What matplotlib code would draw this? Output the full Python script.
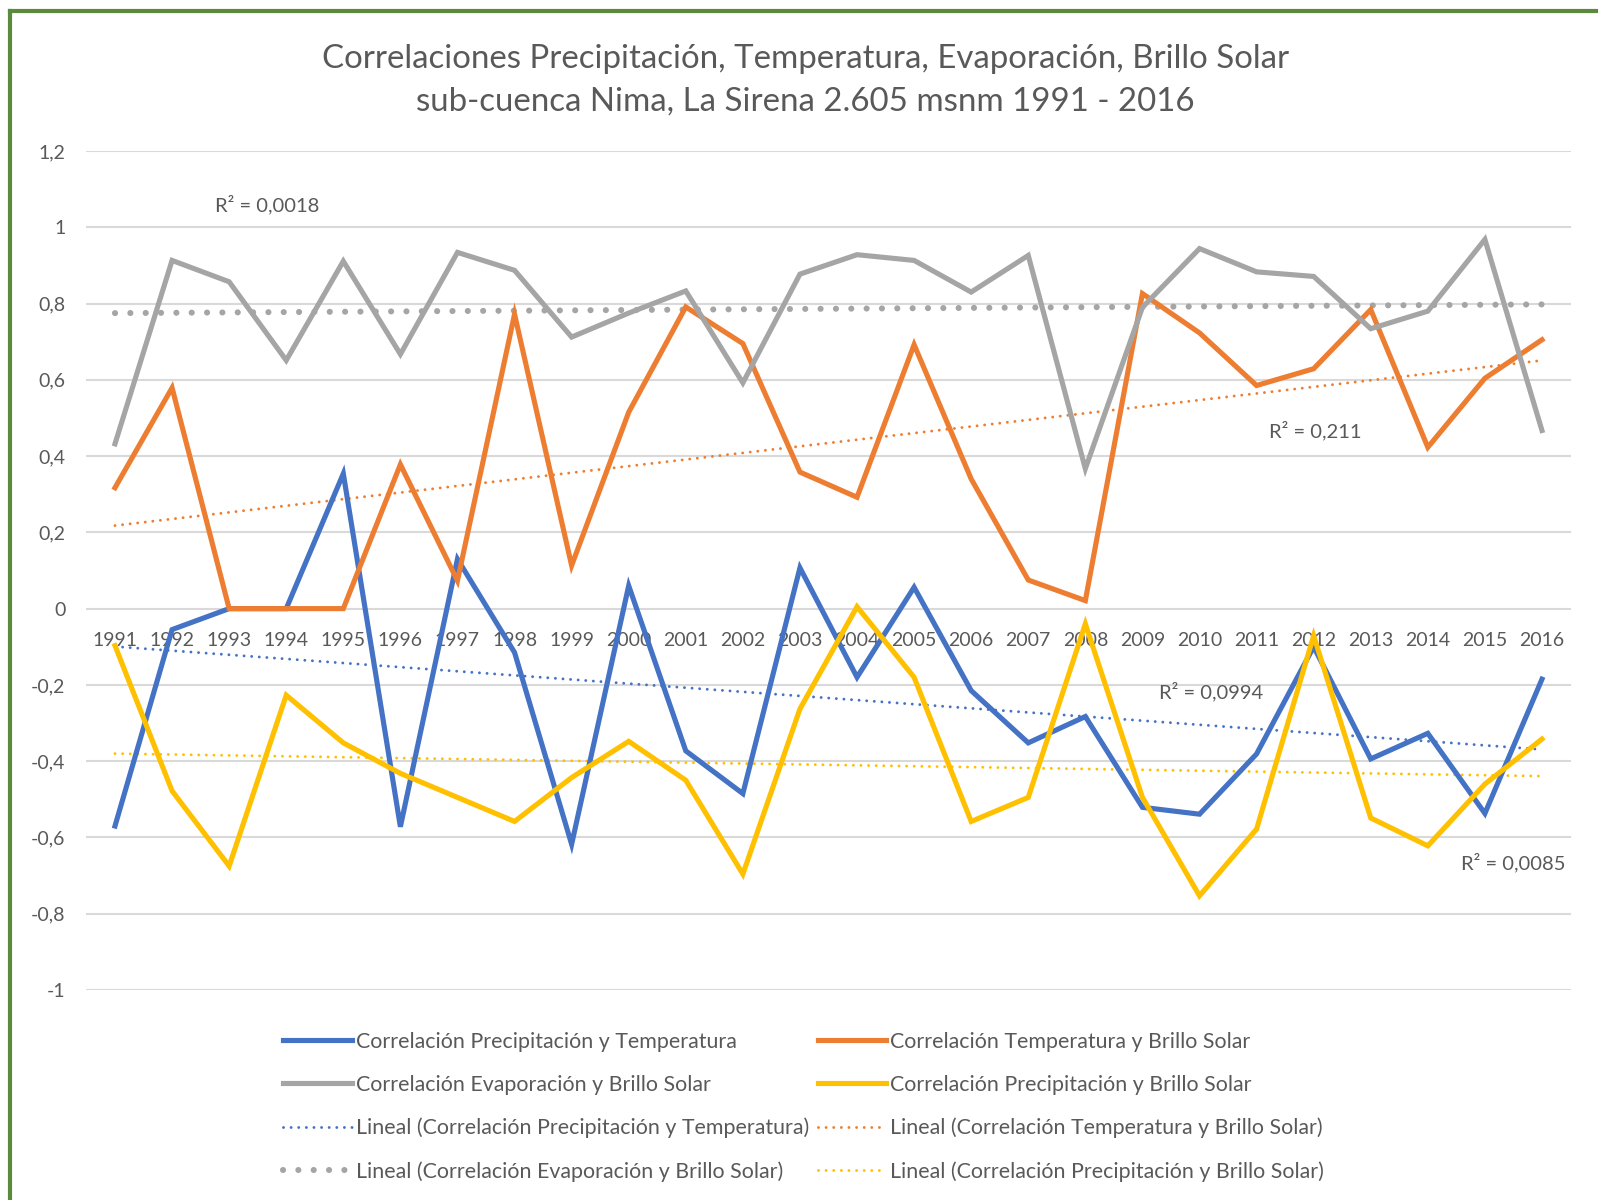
import matplotlib
matplotlib.use("Agg")
import matplotlib.pyplot as plt
import numpy as np
from matplotlib.lines import Line2D

# data
years = [str(y) for y in range(1991, 2017)]

prec_temp = [-0.570, -0.055, 0.0, 0.0, 0.354, -0.572, 0.130, -0.115, -0.618, 0.060,
             -0.373, -0.485, 0.107, -0.180, 0.056, -0.215, -0.352, -0.283, -0.521, -0.539,
             -0.381, -0.100, -0.394, -0.327, -0.537, -0.185]
temp_brillo = [0.317, 0.579, 0.0, 0.0, 0.0, 0.378, 0.073, 0.772, 0.113, 0.515,
               0.791, 0.695, 0.358, 0.292, 0.692, 0.340, 0.075, 0.021, 0.826, 0.723,
               0.585, 0.629, 0.784, 0.423, 0.604, 0.705]
evap_brillo = [0.432, 0.913, 0.857, 0.651, 0.911, 0.667, 0.934, 0.887, 0.712, 0.775,
               0.833, 0.592, 0.877, 0.928, 0.913, 0.830, 0.926, 0.367, 0.790, 0.944,
               0.883, 0.871, 0.734, 0.780, 0.968, 0.467]
prec_brillo = [-0.097, -0.478, -0.675, -0.227, -0.352, -0.432, -0.495, -0.558, -0.443, -0.348,
               -0.450, -0.696, -0.263, 0.005, -0.180, -0.558, -0.495, -0.040, -0.495, -0.753,
               -0.578, -0.071, -0.549, -0.622, -0.460, -0.342]

labels = ["Correlación Precipitación y Temperatura",
          "Correlación Temperatura y Brillo Solar",
          "Correlación Evaporación y Brillo Solar",
          "Correlación Precipitación y Brillo Solar"]
colors = ["#4472C4", "#ED7D31", "#A5A5A5", "#FFC000"]
r2_text = ["R² = 0,0994", "R² = 0,211", "R² = 0,0018", "R² = 0,0085"]
yticks = [-1, -0.8, -0.6, -0.4, -0.2, 0, 0.2, 0.4, 0.6, 0.8, 1, 1.2]
ytick_labels = ["-1", "-0,8", "-0,6", "-0,4", "-0,2", "0", "0,2", "0,4", "0,6", "0,8", "1", "1,2"]

txt = "#595959"
plt.rcParams['font.family'] = ['Lato', 'DejaVu Sans']

fig = plt.figure(figsize=(15.98, 12), dpi=100)
ax = fig.add_axes([0.0541, 0.175, 0.9287, 0.6992])

x = np.arange(len(years))
series = [prec_temp, temp_brillo, evap_brillo, prec_brillo]

handles = []
trend_handles = []
for vals, lab, col in zip(series, labels, colors):
    h, = ax.plot(x, vals, color=col, lw=3.7, solid_joinstyle='miter', zorder=3)
    handles.append(h)
for vals, lab, col in zip(series, labels, colors):
    m, b = np.polyfit(x, vals, 1)
    if col == "#A5A5A5":
        t, = ax.plot(x, m * x + b, color=col, lw=4.4, linestyle=(0, (0.01, 2.5)),
                     dash_capstyle='round', zorder=2)
    else:
        t, = ax.plot(x, m * x + b, color=col, lw=2.1, linestyle=(0, (0.01, 2.6)),
                     dash_capstyle='round', zorder=2)
    trend_handles.append(t)

ax.set_xlim(-0.5, len(years) - 0.5)
ax.set_ylim(-1, 1.2)
ax.set_yticks(yticks)
ax.set_yticklabels(ytick_labels)
ax.set_xticks(x)
ax.set_xticklabels(years)
ax.tick_params(axis='both', length=0, labelsize=14, labelcolor=txt)
ax.tick_params(axis='y', pad=15)
ax.tick_params(axis='x', pad=17)
ax.grid(axis='y', color="#D9D9D9", lw=1.5, zorder=0)
ax.set_axisbelow(True)
for s in ['top', 'right', 'left']:
    ax.spines[s].set_visible(False)
ax.spines['bottom'].set_position(('data', 0))
ax.spines['bottom'].set_color('none')

# R² labels of the trend lines
ax.text(2.66, 1.06, r2_text[2], fontsize=14.5, color=txt, ha='center', va='center')
ax.text(21.03, 0.467, r2_text[1], fontsize=14.5, color=txt, ha='center', va='center')
ax.text(19.2, -0.218, r2_text[0], fontsize=14.5, color=txt, ha='center', va='center')
ax.text(24.5, -0.667, r2_text[3], fontsize=14.5, color=txt, ha='center', va='center')

fig.text(0.504, 0.951, "Correlaciones Precipitación, Temperatura, Evaporación, Brillo Solar",
         fontsize=23.8, color=txt, ha='center', va='center')
fig.text(0.504, 0.915, "sub-cuenca Nima, La Sirena 2.605 msnm 1991 - 2016",
         fontsize=23.8, color=txt, ha='center', va='center')

# legend, filled column by column
order_h = [handles[0], handles[2], trend_handles[0], trend_handles[2],
           handles[1], handles[3], trend_handles[1], trend_handles[3]]
order_l = [labels[0], labels[2], "Lineal (" + labels[0] + ")", "Lineal (" + labels[2] + ")",
           labels[1], labels[3], "Lineal (" + labels[1] + ")", "Lineal (" + labels[3] + ")"]
leg = fig.legend(order_h, order_l, ncol=2, loc='center', bbox_to_anchor=(0.503, 0.0778),
                 frameon=False, fontsize=15.4, handlelength=3.2, handletextpad=0.2,
                 columnspacing=0.38, labelspacing=1.07)
for t in leg.get_texts():
    t.set_color(txt)

# green frame of the chart area
fig.add_artist(Line2D([0.0063, 0.0063], [0, 0.9905], color="#5B8A3C", lw=3, transform=fig.transFigure))
fig.add_artist(Line2D([0.0063, 1], [0.9905, 0.9905], color="#5B8A3C", lw=3, transform=fig.transFigure))

fig.savefig("out.png", dpi=100)
